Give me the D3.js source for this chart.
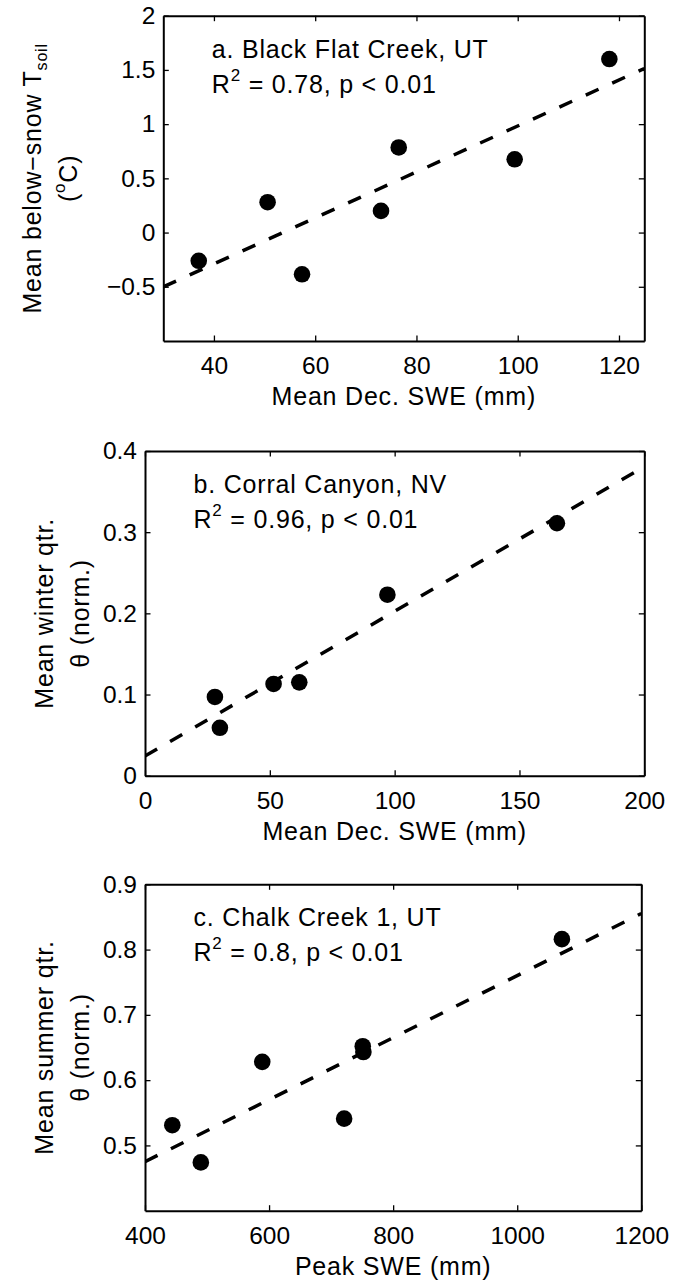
<!DOCTYPE html>
<html lang="en">
<head>
<meta charset="UTF-8">
<title>SWE vs soil conditions</title>
<script src="https://d3js.org/d3.v7.min.js"></script>
<style>
    body { margin: 0; background: #fff; }
    svg { display: block; }
    text { font-family: "Liberation Sans", Arial, sans-serif; fill: #000; }
    .lbl { letter-spacing: 0.8px; }
</style>
</head>
<body>
<svg width="673" height="1284"></svg>
<script>
// a. Black Flat Creek, UT
const sweA = [37, 50.6, 57.4, 73, 76.5, 99.4, 118.1];
const tsoilA = [-0.26, 0.28, -0.385, 0.2, 0.785, 0.676, 1.6];
const xTicksA = [40, 60, 80, 100, 120];
const yTicksA = [-0.5, 0, 0.5, 1, 1.5, 2];

// b. Corral Canyon, NV
const sweB = [28, 30, 51.5, 61.8, 97.1, 165];
const thetaB = [0.097, 0.059, 0.113, 0.115, 0.223, 0.311];
const xTicksB = [0, 50, 100, 150, 200];
const yTicksB = [0, 0.1, 0.2, 0.3, 0.4];

// c. Chalk Creek 1, UT
const peakSweC = [444, 490, 589, 721, 751, 752, 1072];
const thetaC = [0.531, 0.474, 0.628, 0.541, 0.652, 0.643, 0.816];
const xTicksC = [400, 600, 800, 1000, 1200];
const yTicksC = [0.5, 0.6, 0.7, 0.8, 0.9];

const panels = [
    {
        id: "a", xs: sweA, ys: tsoilA, xDomain: [30, 125], yDomain: [-1, 2],
        xTicks: xTicksA, yTicks: yTicksA,
        box: { left: 163.3, top: 15.7, right: 644.3, bottom: 341 },
        title: "a. Black Flat Creek, UT", r2: "0.78",
        xLabel: "Mean Dec. SWE (mm)",
        yLines: [
            [{ t: "Mean below\u2212snow T" }, { t: "soil", sub: true }],
            [{ t: "(" }, { t: "o", sup: true }, { t: "C)" }]
        ],
        yLineX: [32, 68]
    },
    {
        id: "b", xs: sweB, ys: thetaB, xDomain: [0, 200], yDomain: [0, 0.4],
        xTicks: xTicksB, yTicks: yTicksB,
        box: { left: 145, top: 451, right: 644.3, bottom: 775.7 },
        title: "b. Corral Canyon, NV", r2: "0.96",
        xLabel: "Mean Dec. SWE (mm)",
        yLines: [[{ t: "Mean winter qtr." }], [{ t: "\u03b8 (norm.)" }]],
        yLineX: [44, 80]
    },
    {
        id: "c", xs: peakSweC, ys: thetaC, xDomain: [400, 1200], yDomain: [0.4, 0.9],
        xTicks: xTicksC, yTicks: yTicksC,
        box: { left: 145, top: 884.3, right: 641.3, bottom: 1210.7 },
        title: "c. Chalk Creek 1, UT", r2: "0.8",
        xLabel: "Peak SWE (mm)",
        yLines: [[{ t: "Mean summer qtr." }], [{ t: "\u03b8 (norm.)" }]],
        yLineX: [44, 80]
    }
];

const svg = d3.select("svg");
const fontSize = 25;
const tickFont = 24.5;
const fmt = d => String(d).replace("-", "\u2212");

// least squares fit, as in the original figure
function linearFit(xs, ys) {
    const mx = d3.mean(xs), my = d3.mean(ys);
    let sxy = 0, sxx = 0;
    xs.forEach((x, i) => { sxy += (x - mx) * (ys[i] - my); sxx += (x - mx) * (x - mx); });
    const slope = sxy / sxx;
    return { slope: slope, intercept: my - slope * mx };
}

panels.forEach(p => {
    const b = p.box;
    const x = d3.scaleLinear().domain(p.xDomain).range([b.left, b.right]);
    const y = d3.scaleLinear().domain(p.yDomain).range([b.bottom, b.top]);

    const g = svg.append("g");

    // clip for the fit line
    g.append("clipPath").attr("id", "clip-" + p.id)
        .append("rect")
        .attr("x", b.left).attr("y", b.top)
        .attr("width", b.right - b.left).attr("height", b.bottom - b.top);

    const fit = linearFit(p.xs, p.ys);
    const fitLine = p.xDomain.map(v => [v, fit.intercept + fit.slope * v]);
    g.append("path")
        .attr("clip-path", `url(#clip-${p.id})`)
        .attr("d", d3.line().x(d => x(d[0])).y(d => y(d[1]))(fitLine))
        .attr("fill", "none")
        .attr("stroke", "#000")
        .attr("stroke-width", 3.5)
        .attr("stroke-dasharray", "14,15");

    g.selectAll("circle")
        .data(p.xs.map((v, i) => [v, p.ys[i]]))
        .enter().append("circle")
        .attr("cx", d => x(d[0]))
        .attr("cy", d => y(d[1]))
        .attr("r", 8.3)
        .attr("fill", "#000");

    // axes, ticks pointing inward on all four sides
    const axes = [
        { ax: d3.axisBottom(x).tickValues(p.xTicks).tickFormat(fmt), tr: `translate(0,${b.bottom})`, bottom: true },
        { ax: d3.axisTop(x).tickValues(p.xTicks).tickFormat(""), tr: `translate(0,${b.top})` },
        { ax: d3.axisLeft(y).tickValues(p.yTicks).tickFormat(fmt), tr: `translate(${b.left},0)` },
        { ax: d3.axisRight(y).tickValues(p.yTicks).tickFormat(""), tr: `translate(${b.right},0)` }
    ];
    axes.forEach(a => {
        const ag = g.append("g")
            .attr("transform", a.tr)
            .call(a.ax.tickSize(-5.5).tickSizeOuter(0).tickPadding(a.bottom ? 16 : 8));
        ag.select(".domain").attr("stroke-width", 2);
        ag.selectAll(".tick line").attr("stroke-width", 1.3);
        ag.selectAll("text")
            .style("font-family", '"Liberation Sans", Arial, sans-serif')
            .attr("font-size", tickFont);
        if (a.bottom) ag.selectAll("text").attr("dy", "0.71em");
    });

    // annotation
    g.append("text").attr("class", "lbl")
        .attr("x", b.left + 48.5).attr("y", b.top + 42)
        .attr("font-size", fontSize)
        .text(p.title);
    const r = g.append("text").attr("class", "lbl")
        .attr("x", b.left + 48.5).attr("y", b.top + 77)
        .attr("font-size", fontSize);
    r.append("tspan").text("R");
    r.append("tspan").attr("dy", -12).attr("font-size", 17).text("2");
    r.append("tspan").attr("dy", 12).text(" = " + p.r2 + ", p < 0.01");

    // x label
    g.append("text").attr("class", "lbl")
        .attr("x", (b.left + b.right) / 2).attr("y", b.bottom + 64)
        .attr("text-anchor", "middle")
        .attr("font-size", fontSize)
        .text(p.xLabel);

    // y label, two lines
    const cy = (b.top + b.bottom) / 2;
    p.yLines.forEach((parts, li) => {
        const t = g.append("text").attr("class", "lbl")
            .attr("transform", `translate(${p.yLineX[li]},${cy}) rotate(-90)`)
            .attr("text-anchor", "middle")
            .attr("dy", "0.35em")
            .attr("font-size", fontSize);
        let shift = 0;
        parts.forEach(part => {
            const ts = t.append("tspan").text(part.t);
            if (part.sub) { ts.attr("dy", 6).attr("font-size", 16); shift = 6; }
            else if (part.sup) { ts.attr("dy", -12).attr("font-size", 17); shift = -12; }
            else if (shift !== 0) { ts.attr("dy", -shift); shift = 0; }
        });
    });
});
</script>
</body>
</html>
